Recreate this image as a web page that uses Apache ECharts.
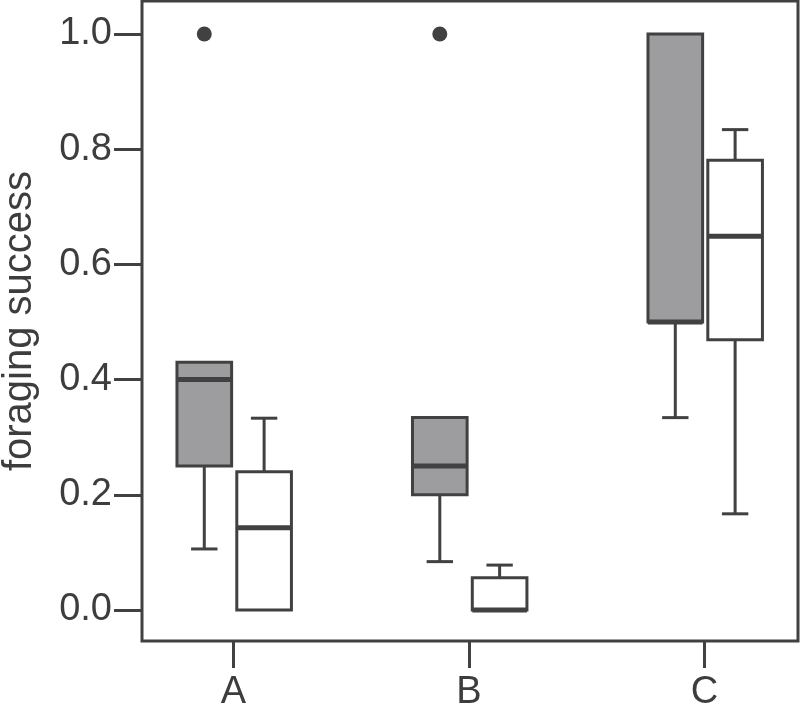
<!DOCTYPE html>
<html>
<head>
<meta charset="utf-8">
<script src="https://cdn.jsdelivr.net/npm/echarts@6/dist/echarts.min.js"></script>
<style>html,body{margin:0;padding:0;background:#fff}#c{width:800px;height:706px}</style>
</head>
<body>
<div id="c"></div>
<script>
// categories on x axis
const categories = ['A', 'B', 'C'];
// y tick labels
const yTicks = [0.0, 0.2, 0.4, 0.6, 0.8, 1.0];
// grey group: [min, Q1, median, Q3, max] per category
const greyMin = [0.106, 0.084, 0.334];
const greyQ1  = [0.250, 0.200, 0.500];
const greyMed = [0.400, 0.250, 0.500];
const greyQ3  = [0.430, 0.334, 1.000];
const greyMax = [0.430, 0.334, 1.000];
// white group
const whiteMin = [0.000, 0.000, 0.167];
const whiteQ1  = [0.000, 0.000, 0.469];
const whiteMed = [0.143, 0.000, 0.649];
const whiteQ3  = [0.240, 0.056, 0.781];
const whiteMax = [0.333, 0.078, 0.834];
// grey-group outliers (category index, value)
const outlierCat = [0, 1];
const outlierVal = [1.0, 1.0];

const LINE = '#414142';
const TEXT = '#3d3d3f';
const GREY = '#9d9d9f';
const OFF_GREY = -0.124, OFF_WHITE = 0.13, BOXW = 0.232, CAPW = 0.112;

function makeData(mins, q1, med, q3, max) {
  return categories.map((c, i) => [i + 1, mins[i], q1[i], med[i], q3[i], max[i]]);
}

function boxRenderer(offset, fill) {
  return function (params, api) {
    const xv = api.value(0) + offset;
    const vmin = api.value(1), q1 = api.value(2), med = api.value(3), q3 = api.value(4), vmax = api.value(5);
    const cx = api.coord([xv, med])[0];
    const Y = v => api.coord([xv, v])[1];
    const w = api.size([BOXW, 0])[0];
    const cw = api.size([CAPW, 0])[0];
    const children = [];
    const ls = { stroke: LINE, lineWidth: 3 };
    if (vmax > q3) {
      children.push({ type: 'line', shape: { x1: cx, y1: Y(q3), x2: cx, y2: Y(vmax) }, style: ls });
      children.push({ type: 'line', shape: { x1: cx - cw / 2, y1: Y(vmax), x2: cx + cw / 2, y2: Y(vmax) }, style: ls });
    }
    if (vmin < q1) {
      children.push({ type: 'line', shape: { x1: cx, y1: Y(q1), x2: cx, y2: Y(vmin) }, style: ls });
      children.push({ type: 'line', shape: { x1: cx - cw / 2, y1: Y(vmin), x2: cx + cw / 2, y2: Y(vmin) }, style: ls });
    }
    children.push({ type: 'rect', shape: { x: cx - w / 2, y: Y(q3), width: w, height: Y(q1) - Y(q3) },
      style: { fill: fill, stroke: LINE, lineWidth: 3 } });
    children.push({ type: 'line', shape: { x1: cx - w / 2, y1: Y(med), x2: cx + w / 2, y2: Y(med) },
      style: { stroke: LINE, lineWidth: 5 } });
    return { type: 'group', children: children };
  };
}

const chart = echarts.init(document.getElementById('c'), null, { renderer: 'canvas' });
const FONT = 'Liberation Sans';
chart.setOption({
  animation: false,
  backgroundColor: '#fff',
  grid: { left: 142, right: 2, top: 1, bottom: 65, containLabel: false, outerBoundsMode: 'none',
    show: true, borderColor: LINE, borderWidth: 3, backgroundColor: 'transparent' },
  xAxis: {
    type: 'value', min: 0.6115, max: 3.3970, position: 'bottom',
    axisLine: { show: false, onZero: false },
    splitLine: { show: false },
    axisTick: { show: true, length: 27, lineStyle: { color: LINE, width: 3 }, customValues: [1, 2, 3] },
    axisLabel: { customValues: [1, 2, 3], formatter: v => categories[Math.round(v) - 1] || '',
      color: TEXT, fontSize: 38, fontFamily: FONT, margin: 33 }
  },
  yAxis: {
    type: 'value', min: -0.0538, max: 1.0573, position: 'left',
    name: 'foraging success', nameLocation: 'middle', nameGap: 102, nameRotate: 90,
    nameTextStyle: { color: TEXT, fontSize: 40, fontFamily: FONT },
    axisLine: { show: false, onZero: false },
    splitLine: { show: false },
    axisTick: { show: true, length: 28, lineStyle: { color: LINE, width: 3 }, customValues: yTicks },
    axisLabel: { customValues: yTicks, formatter: v => v.toFixed(1),
      color: TEXT, fontSize: 38, fontFamily: FONT, margin: 30 }
  },
  series: [
    { type: 'custom', renderItem: boxRenderer(OFF_GREY, GREY), encode: { x: 0, y: [1, 2, 3, 4, 5] },
      data: makeData(greyMin, greyQ1, greyMed, greyQ3, greyMax), z: 2 },
    { type: 'custom', renderItem: boxRenderer(OFF_WHITE, '#ffffff'), encode: { x: 0, y: [1, 2, 3, 4, 5] },
      data: makeData(whiteMin, whiteQ1, whiteMed, whiteQ3, whiteMax), z: 2 },
    { type: 'scatter', symbol: 'circle', symbolSize: 15, itemStyle: { color: LINE, opacity: 1 },
      data: outlierCat.map((c, i) => [c + 1 + OFF_GREY, outlierVal[i]]), z: 3 }
  ]
});
</script>
</body>
</html>
